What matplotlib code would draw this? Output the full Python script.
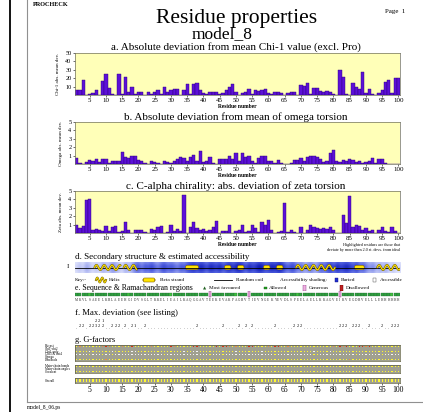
import numpy as np
import matplotlib
matplotlib.use('Agg')
import matplotlib.pyplot as plt
from matplotlib.colors import LinearSegmentedColormap, ListedColormap
from matplotlib.patches import FancyBboxPatch, Rectangle
from matplotlib.lines import Line2D

plt.rcParams['font.family'] = ['Liberation Serif', 'DejaVu Serif']

W, H = 423, 412

# ---- data ----
residues = np.arange(1, 101)
res_ticks = list(range(5, 101, 5))

chi1_dev = [6, 6, 18, 0, 1, 2, 6, 0, 17, 25,
            8, 1, 0, 25, 1, 22, 4, 9, 1, 4,
            3, 0, 4, 1, 3, 6, 1, 10, 4, 6,
            7, 7, 0, 6, 13, 1, 13, 14, 6, 2,
            1, 4, 4, 4, 1, 2, 6, 9, 13, 3,
            0, 2, 3, 7, 1, 6, 5, 6, 7, 2,
            1, 3, 3, 2, 0, 2, 4, 4, 0, 12,
            11, 14, 1, 8, 8, 5, 3, 5, 4, 1,
            0, 30, 22, 1, 0, 14, 9, 7, 27, 2,
            7, 1, 0, 2, 6, 16, 18, 2, 20, 20]

omega_dev = [0.7, 0.1, 0.0, 0.2, 0.5, 0.4, 0.6, 0.2, 0.6, 0.6,
             0.1, 0.4, 0.4, 0.4, 1.4, 0.8, 0.7, 1.0, 0.9, 0.5,
             0.3, 0.1, 0.0, 0.3, 0.2, 0.1, 0.0, 0.3, 0.2, 0.1,
             0.4, 0.6, 0.8, 0.7, 0.3, 0.8, 1.1, 0.3, 1.5, 0.2,
             0.3, 0.8, 0.1, 0.0, 0.6, 0.6, 0.6, 0.9, 0.6, 1.3,
             0.3, 1.3, 0.8, 1.0, 0.4, 0.1, 0.7, 0.9, 1.0, 0.3,
             0.3, 0.1, 0.5, 0.1, 0.0, 0.0, 0.1, 0.5, 0.5, 0.7,
             0.3, 0.8, 0.9, 0.9, 0.8, 0.6, 0.2, 0.3, 1.3, 1.7,
             0.3, 0.2, 0.5, 0.3, 0.6, 0.5, 0.2, 0.4, 0.1, 0.2,
             0.4, 0.7, 0.1, 0.6, 0.6, 0.1, 0.0, 0.0, 0.0, 0.0]

zeta_dev = [1.0, 0.6, 0.8, 3.9, 4.1, 0.3, 0.5, 0.3, 0.2, 0.8,
            0.2, 0.7, 0.8, 0.1, 0.2, 1.3, 0.3, 0.0, 0.3, 0.3,
            0.3, 0.1, 0.0, 0.5, 0.4, 0.7, 0.8, 0.0, 0.1, 1.0,
            0.2, 0.5, 0.2, 4.5, 0.0, 0.7, 1.3, 0.6, 0.4, 0.5,
            0.2, 0.3, 0.7, 1.4, 0.0, 0.2, 0.2, 1.0, 0.0, 0.2,
            0.4, 0.9, 0.1, 0.2, 1.0, 0.6, 0.1, 1.3, 1.0, 1.5,
            0.3, 0.0, 0.1, 0.2, 3.6, 0.1, 0.3, 0.1, 0.0, 0.7,
            0.0, 0.3, 0.9, 0.7, 0.6, 0.5, 0.6, 0.5, 0.7, 0.3,
            0.0, 0.0, 2.2, 1.2, 4.4, 0.7, 1.0, 0.8, 0.3, 0.6,
            0.2, 0.3, 0.0, 0.3, 0.7, 0.2, 0.1, 0.7, 0.2, 0.0]

sequence = ("MKVLSAEELK" "RLAEEHGIDV" "SGLTKKELIE" "AILKAQGGAV" "TEEKEVAKPA"
            "GRVTIEVNGE" "KYEVDLSPEE" "LAELLKKAGV" "EIKVEGDRVE" "LLLEHHHHHH")

# secondary structure: helix runs and strand runs (first, last residue)
helices = [(7, 14), (16, 19), (69, 80), (94, 100)]
strands = [(35, 38), (47, 48), (51, 52), (59, 60), (63, 64), (87, 89)]

# buried level (0 = accessible, 1 = buried)
accessibility = [0.1, 0.2, 0.1, 0.3, 0.2, 0.1, 0.2, 0.1, 0.3, 0.2,
                 0.2, 0.4, 0.3, 0.2, 0.1, 0.3, 0.2, 0.3, 0.5, 0.6,
                 0.4, 0.6, 0.5, 0.7, 0.5, 0.4, 0.6, 0.7, 0.5, 0.6,
                 0.5, 0.4, 0.6, 0.5, 0.7, 0.8, 0.9, 0.7, 0.9, 0.8,
                 0.6, 0.9, 0.8, 0.7, 0.9, 0.6, 0.8, 0.9, 0.7, 0.9,
                 1.0, 0.8, 0.6, 0.9, 0.7, 0.8, 1.0, 0.9, 0.7, 0.8,
                 0.9, 0.8, 1.0, 0.9, 0.6, 0.5, 0.7, 0.6, 0.4, 0.5,
                 0.3, 0.4, 0.5, 0.3, 0.4, 0.6, 0.5, 0.7, 0.8, 0.6,
                 0.9, 0.7, 0.8, 0.9, 0.7, 0.6, 0.8, 0.5, 0.6, 0.4,
                 0.3, 0.4, 0.2, 0.3, 0.2, 0.3, 0.1, 0.2, 0.1, 0.1]

# Ramachandran region per residue: F favoured, A allowed, G generous
rama = ("FFFFAFFFFF" "FFFFFFAFFF" "FFFFFFFFFA" "FFFFFFFFFF" "FGFFFFFFFA"
        "FFFGFFFFFF" "FFFFFFFFAF" "FFFFFFFFFF" "FGFFFFFFFF" "FFFFFFFAFF")

maxdev = (".22.22322." ".222.2.21." ".2........" ".......2.." ".....2...."
          "2.2.2....." ".2.....222" ".........." ".222.222.." "2...2..222")
maxdev_upper = {7: "2", 8: "2", 9: "1"}

gf_labels_1 = ["Phi-psi", "Chi1-chi2", "Chi1 only", "Chi3 & chi4", "Omega", "Dihedrals"]
gf_rows_1 = [
    "0200000023" "2000200300" "0002000003" "2000003300" "0003033202"
    "0003300002" "0330020000" "0000000002" "0323000332" "3000000000",
    "0011101001" "0010011110" "1100101001" "1001001110" "1000100011"
    "1010010100" "0010110002" "0011001011" "0100201000" "0001000000",
    "0000100000" "0100000110" "0000000000" "0001001100" "0000000001"
    "0000000100" "0000000000" "0001000010" "0000000000" "0000000000",
    "1111011101" "1011111111" "1111111011" "1111111111" "1011101111"
    "1111111111" "1011111111" "1110011111" "1111110111" "1111011111",
    "0000000000" "0000000000" "0000000000" "0000000000" "0000000000"
    "0000000000" "0000000000" "0000000000" "0002000000" "0000000000",
    "0000000002" "0000000000" "0000000000" "0000000000" "0000000000"
    "0000000000" "0000000000" "0000000000" "0000200000" "0000000000",
]
gf_labels_2 = ["Main-chain bonds", "Main-chain angles", "Covalent"]
gf_rows_2 = ["0" * 100, "0" * 100, "0" * 100]
gf_labels_3 = ["Overall"]
gf_rows_3 = ["0" * 100]

fig = plt.figure(figsize=(W / 100, H / 100), dpi=100)


def box(left, top, right, bottom):
    return [left / W, 1 - bottom / H, (right - left) / W, (bottom - top) / H]


def ftext(x, y, s, **kw):
    kw.setdefault('va', 'center')
    fig.text(x / W, 1 - y / H, s, **kw)


def fline(x0, y0, x1, y1, **kw):
    fig.add_artist(Line2D([x0 / W, x1 / W], [1 - y0 / H, 1 - y1 / H], **kw))


# page furniture
fline(10, 0, 10, 412, color='black', lw=1.3)
fline(27, 0, 27, 402, color='#909090', lw=0.8)
fline(27, 402, 423, 402, color='#909090', lw=0.8)
ftext(33, 4, "PROCHECK", fontsize=4.5, fontweight='bold', ha='left')
ftext(405, 11, "Page  1", fontsize=5, ha='right')
ftext(237, 18, "Residue properties", fontsize=15.5, ha='center')
ftext(222, 34.5, "model_8", fontsize=12.5, ha='center')
ftext(27, 408, "model_8_06.ps", fontsize=4, ha='left')


def bar_panel(rect, values, ymax, yticks, ylabel, title, title_y):
    ax = fig.add_axes(box(*rect))
    ax.set_facecolor('#ffffb8')
    ax.bar(residues, values, width=1.0, color='#5c10d8', edgecolor='#2c0078', linewidth=0.3)
    ax.set_xlim(0.5, 100.5)
    ax.set_ylim(0, ymax)
    ax.set_xticks(res_ticks)
    ax.set_xticklabels([str(t) for t in res_ticks], fontsize=5)
    ax.set_yticks(yticks)
    ax.set_yticklabels([str(t) for t in yticks], fontsize=4.5)
    ax.tick_params(length=1.5, width=0.4, pad=1)
    for s in ax.spines.values():
        s.set_linewidth(0.5)
        s.set_color('#707060')
    ax.set_ylabel(ylabel, fontsize=3.6, labelpad=4)
    ax.set_xlabel("Residue number", fontsize=4, fontweight='bold', labelpad=0.5)
    ftext(236, title_y, title, fontsize=8, ha='center')
    return ax


bar_panel((75, 53, 400, 95), chi1_dev, 50, [10, 20, 30, 40, 50],
          "Chi-1 abs. mean dev.", "a. Absolute deviation from mean Chi-1 value (excl. Pro)", 47.5)
bar_panel((75, 122, 400, 164), omega_dev, 5, [1, 2, 3, 4, 5],
          "Omega abs. mean dev.", "b. Absolute deviation from mean of omega torsion", 117)
bar_panel((75, 191, 400, 233), zeta_dev, 5, [1, 2, 3, 4, 5],
          "Zeta abs. mean dev.", "c. C-alpha chirality: abs. deviation of zeta torsion", 186)
ftext(400, 245, "Highlighted residues are those that", fontsize=3, ha='right')
ftext(400, 250, "deviate by more than 2.0 st. devs. from ideal", fontsize=3, ha='right')

# d. secondary structure
ftext(75, 257, "d. Secondary structure & estimated accessibility", fontsize=6.5, ha='left')
ftext(67, 267, "I", fontsize=5, ha='left')
ax_d = fig.add_axes(box(75, 262, 400, 273))
ax_d.set_xlim(0.5, 100.5)
ax_d.set_ylim(0, 1)
ax_d.axis('off')
blues = LinearSegmentedColormap.from_list('acc', ['#f4f6ff', '#5464e2', '#0814b4'])
profile = np.array([0.7, 0.9, 1.0, 1.0, 0.9, 0.7])
ax_d.imshow(profile[:, None] * np.array(accessibility)[None, :], extent=(0.5, 100.5, 0, 1),
            aspect='auto', cmap=blues, vmin=0, vmax=1, interpolation='bicubic')
ax_d.axhline(0.5, color='black', lw=0.6)
for first, last in helices:
    xs = np.linspace(first - 0.5, last + 0.5, 80)
    ys = 0.5 + 0.22 * np.sin(2 * np.pi * (xs - first + 0.5) / 2.4)
    ax_d.plot(xs, ys, color='#6a5a00', lw=1.5, solid_capstyle='round')
    ax_d.plot(xs, ys, color='#ffe000', lw=0.8, solid_capstyle='round')
for first, last in strands:
    ax_d.add_patch(FancyBboxPatch((first - 0.5, 0.3), last - first + 1, 0.4,
                                  boxstyle='round,pad=0,rounding_size=0.6', mutation_aspect=0.3,
                                  fc='#ffe400', ec='#806000', lw=0.4))

# key
ax_k = fig.add_axes(box(75, 276, 400, 284))
ax_k.set_xlim(75, 400)
ax_k.set_ylim(0, 1)
ax_k.axis('off')
kx = np.linspace(96, 106, 30)
ax_k.plot(kx, 0.5 + 0.3 * np.sin(2 * np.pi * (kx - 96) / 5), color='#6a5a00', lw=1.4)
ax_k.plot(kx, 0.5 + 0.3 * np.sin(2 * np.pi * (kx - 96) / 5), color='#ffe000', lw=0.7)
ax_k.add_patch(FancyBboxPatch((143, 0.25), 12, 0.5, boxstyle='round,pad=0,rounding_size=1.5',
                              mutation_aspect=0.2, fc='#ffe400', ec='#806000', lw=0.4))
ax_k.plot([214, 232], [0.5, 0.5], color='black', lw=0.6)
ax_k.add_patch(Rectangle((335, 0.25), 3, 0.5, fc='#2030d0', ec='#101080', lw=0.3))
ax_k.add_patch(Rectangle((373, 0.25), 3, 0.5, fc='white', ec='#404040', lw=0.3))
for x, s in [(75, "Key:-"), (109, "Helix"), (160, "Beta strand"), (236, "Random coil"),
             (280, "Accessibility shading:"), (341, "Buried"), (380, "Accessible")]:
    ax_k.text(x, 0.5, s, fontsize=3.8, ha='left', va='center')

# e. sequence & Ramachandran
ftext(75, 288, "e. Sequence & Ramachandran regions", fontsize=5.6, ha='left')
ax_el = fig.add_axes(box(75, 285, 400, 291))
ax_el.set_xlim(75, 400)
ax_el.set_ylim(0, 1)
ax_el.axis('off')
ax_el.text(203, 0.5, "\u25b2", fontsize=3, ha='left', va='center', color='#206020',
           family=['DejaVu Sans'])
ax_el.text(209, 0.5, "Most favoured", fontsize=3.8, ha='left', va='center')
ax_el.add_patch(Rectangle((264, 0.3), 2.5, 0.4, fc='#20a020', ec='#106010', lw=0.3))
ax_el.text(269, 0.5, "Allowed", fontsize=3.8, ha='left', va='center')
ax_el.add_patch(Rectangle((303, 0.05), 2.5, 0.9, fc='#f0b0e0', ec='#803080', lw=0.3))
ax_el.text(309, 0.5, "Generous", fontsize=3.8, ha='left', va='center')
ax_el.add_patch(Rectangle((340, 0.05), 2.5, 0.9, fc='#c02020', ec='#600000', lw=0.3))
ax_el.text(346, 0.5, "Disallowed", fontsize=3.8, ha='left', va='center')

ax_e = fig.add_axes(box(75, 291, 400, 302))
ax_e.set_xlim(0.5, 100.5)
ax_e.set_ylim(0, 1)
ax_e.axis('off')
rama_col = {'F': '#30a040', 'A': '#40c040', 'G': '#f0b0e0'}
for r, code in zip(residues, rama):
    if code == 'G':
        ax_e.add_patch(Rectangle((r - 0.4, 0.45), 0.8, 0.55, fc=rama_col[code], ec='#803080', lw=0.3))
    else:
        ax_e.add_patch(Rectangle((r - 0.45, 0.55), 0.9, 0.28, fc=rama_col[code], ec='#206030', lw=0.2))
for r, aa in zip(residues, sequence):
    ax_e.text(r, 0.2, aa, fontsize=2.4, ha='center', va='center', color='#202020')

# f. max deviation
ftext(75, 313, "f. Max. deviation (see listing)", fontsize=6.2, ha='left')
ax_f = fig.add_axes(box(75, 316, 400, 332))
ax_f.set_xlim(0.5, 100.5)
ax_f.set_ylim(0, 1)
ax_f.axis('off')
for r, c in zip(residues, maxdev):
    ax_f.text(r, 0.25 if c == '.' else 0.35, c, fontsize=3.2, ha='center', va='center')
for r, c in maxdev_upper.items():
    ax_f.text(r, 0.7, c, fontsize=3.2, ha='center', va='center')

# g. G-factors
ftext(75, 340, "g. G-factors", fontsize=6, ha='left')
gcmap = ListedColormap(['#fff830', '#f4f4f4', '#f09040', '#d83010'])


def gf_block(rect, rows, labels, show_ticks=False):
    ax = fig.add_axes(box(*rect))
    grid = np.array([[int(ch) for ch in row] for row in rows])
    ax.pcolormesh(np.arange(0.5, 101.5), np.arange(len(rows) + 1), grid, cmap=gcmap,
                  vmin=-0.5, vmax=3.5, edgecolors='#a0a090', linewidth=0.25)
    ax.set_xlim(0.5, 100.5)
    ax.set_ylim(len(rows), 0)
    ax.set_yticks([])
    for s in ax.spines.values():
        s.set_linewidth(0.5)
        s.set_color('#606040')
    if show_ticks:
        ax.set_xticks(res_ticks)
        ax.set_xticklabels([str(t) for t in res_ticks], fontsize=5.5)
        ax.tick_params(axis='x', length=1.5, width=0.4, pad=1)
    else:
        ax.set_xticks([])
    top, bottom = rect[1], rect[3]
    step = (bottom - top) / len(rows)
    for i, lab in enumerate(labels):
        ftext(45, top + step * (i + 0.5), lab, fontsize=2.4, ha='left')
    return ax


gf_block((75, 345, 400, 361), gf_rows_1, gf_labels_1)
gf_block((75, 365, 400, 373), gf_rows_2, gf_labels_2)
gf_block((75, 378, 400, 383), gf_rows_3, gf_labels_3, show_ticks=True)

fig.savefig("out.png", dpi=100, facecolor='white')
